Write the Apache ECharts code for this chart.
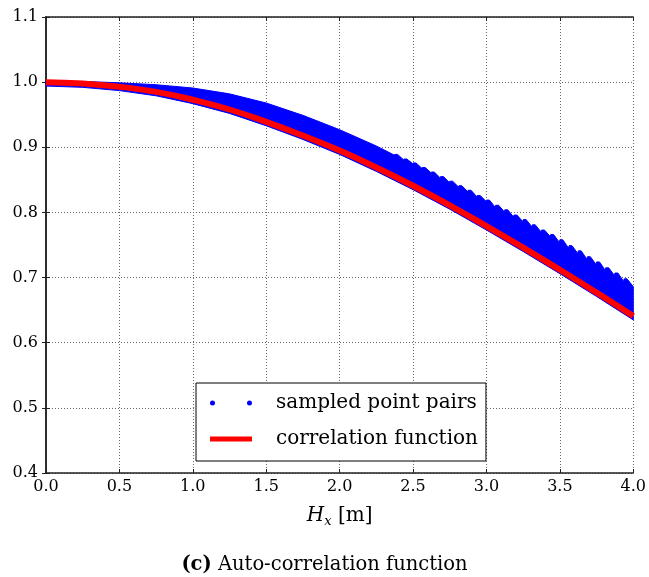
<!DOCTYPE html>
<html>
<head>
<meta charset="utf-8">
<script src="https://cdn.jsdelivr.net/npm/echarts@6/dist/echarts.min.js"></script>
<style>html,body{margin:0;padding:0;background:#fff;}#c{width:649px;height:577px;}</style>
</head>
<body>
<div id="c"></div>
<script>
// ---- data ----
const xTicks = [0.0, 0.5, 1.0, 1.5, 2.0, 2.5, 3.0, 3.5, 4.0];
const yTicks = [0.4, 0.5, 0.6, 0.7, 0.8, 0.9, 1.0, 1.1];

// correlation function (red curve)
const hx   = [0, 0.25, 0.5, 0.75, 1.0, 1.25, 1.5, 1.75, 2.0, 2.25, 2.5, 2.75, 3.0, 3.25, 3.5, 3.75, 4.0];
const corr = [1.000, 0.998, 0.993, 0.985, 0.973, 0.958, 0.939, 0.918, 0.895, 0.869, 0.841, 0.811, 0.779, 0.746, 0.712, 0.677, 0.641];

// sampled point pairs: lower edge of the cloud (at hx)
const bandLow = [0.994, 0.992, 0.987, 0.979, 0.967, 0.952, 0.933, 0.912, 0.889, 0.863, 0.835, 0.805, 0.773, 0.740, 0.706, 0.671, 0.635];
// upper edge, smooth part
const bandTopX = [0, 0.25, 0.5, 0.75, 1.0, 1.25, 1.5, 1.75, 2.0, 2.25];
const bandTop  = [1.002, 1.001, 0.999, 0.996, 0.991, 0.982, 0.968, 0.949, 0.927, 0.902];
// upper edge, saw-tooth part
const toothX = [2.375, 2.4375, 2.5, 2.5625, 2.625, 2.6875, 2.75, 2.8125, 2.875, 2.9375, 3.0, 3.0625, 3.125,
                3.1875, 3.25, 3.3125, 3.375, 3.4375, 3.5, 3.5625, 3.625, 3.6875, 3.75, 3.8125, 3.875, 3.9375];
const toothTop  = [0.889, 0.882, 0.876, 0.869, 0.862, 0.855, 0.848, 0.841, 0.834, 0.826, 0.819, 0.811, 0.804,
                   0.796, 0.789, 0.781, 0.773, 0.766, 0.758, 0.749, 0.741, 0.732, 0.724, 0.715, 0.707, 0.698];
const toothBase = [0.888, 0.881, 0.875, 0.868, 0.861, 0.853, 0.846, 0.839, 0.832, 0.824, 0.817, 0.808, 0.801,
                   0.793, 0.786, 0.778, 0.770, 0.763, 0.754, 0.745, 0.737, 0.728, 0.720, 0.711, 0.703, 0.694];
const bandEndTop = 0.686;

const seriesNames = ['sampled point pairs', 'correlation function'];

// ---- build ----
const corrData = hx.map((x, i) => [x, corr[i]]);
const bandPts = [];
bandTopX.forEach((x, i) => bandPts.push([x, bandTop[i]]));
toothX.forEach((x, i) => {
  bandPts.push([x - 0.003, toothBase[i]]);
  bandPts.push([x, toothTop[i]]);
  bandPts.push([x + 0.02, toothTop[i]]);
});
bandPts.push([4.0, bandEndTop]);
for (let i = hx.length - 1; i >= 0; i--) bandPts.push([hx[i], bandLow[i]]);

const FONT = 'DejaVu Serif';
const frame = { show: true, lineStyle: { color: '#222', width: 1.5 } };
const tick = { show: true, inside: true, length: 4, lineStyle: { color: '#222', width: 1 } };
const dotted = { show: true, lineStyle: { color: '#666', width: 1, type: [1, 2] } };

const chart = echarts.init(document.getElementById('c'), null, { renderer: 'canvas' });
chart.setOption({
  animation: false,
  backgroundColor: '#fff',
  title: {
    text: '{b|(c)} Auto-correlation function',
    left: 'center',
    top: 550,
    textStyle: {
      fontFamily: FONT, fontSize: 19.5, fontWeight: 'normal', color: '#000',
      rich: { b: { fontFamily: FONT, fontSize: 19.5, fontWeight: 'bold', color: '#000' } }
    }
  },
  grid: { left: 46, right: 13, top: 17, bottom: 104, containLabel: false },
  legend: {
    orient: 'vertical',
    left: 196, top: 383,
    padding: [8, 8, 10, 14],
    itemGap: 12,
    itemWidth: 42, itemHeight: 5,
    borderColor: '#000', borderWidth: 1, borderRadius: 0,
    backgroundColor: '#fff',
    textStyle: { fontFamily: FONT, fontSize: 20, color: '#000', lineHeight: 24, padding: [0, 0, 0, 19] },
    data: [
      { name: seriesNames[0], icon: 'path://M0,2.5A2.5,2.5,0,1,1,5,2.5A2.5,2.5,0,1,1,0,2.5ZM37,2.5A2.5,2.5,0,1,1,42,2.5A2.5,2.5,0,1,1,37,2.5Z', itemStyle: { color: '#0000ff' } },
      { name: seriesNames[1], icon: 'rect', itemStyle: { color: '#ff0000' } }
    ]
  },
  xAxis: [
    {
      type: 'value', min: xTicks[0], max: xTicks[xTicks.length - 1], interval: 0.5,
      position: 'bottom',
      name: '{i|H}{s|x}{r| [m]}',
      nameLocation: 'middle', nameGap: 31,
      nameTextStyle: {
        fontFamily: FONT, color: '#000',
        rich: {
          i: { fontFamily: FONT, fontStyle: 'italic', fontSize: 20, lineHeight: 24, color: '#000' },
          s: { fontFamily: FONT, fontStyle: 'italic', fontSize: 13, lineHeight: 12, verticalAlign: 'bottom', color: '#000' },
          r: { fontFamily: FONT, fontSize: 20, lineHeight: 24, color: '#000' }
        }
      },
      axisLine: frame, axisTick: tick, splitLine: dotted,
      axisLabel: { fontFamily: FONT, fontSize: 16, color: '#000', margin: 6, formatter: v => v.toFixed(1) }
    },
    {
      type: 'value', min: xTicks[0], max: xTicks[xTicks.length - 1], interval: 0.5,
      position: 'top',
      axisLine: frame, axisTick: tick, splitLine: { show: false }, axisLabel: { show: false }
    }
  ],
  yAxis: [
    {
      type: 'value', min: yTicks[0], max: yTicks[yTicks.length - 1], interval: 0.1,
      position: 'left',
      axisLine: frame, axisTick: tick, splitLine: dotted,
      axisLabel: { fontFamily: FONT, fontSize: 16, color: '#000', margin: 8, formatter: v => v.toFixed(1) }
    },
    {
      type: 'value', min: yTicks[0], max: yTicks[yTicks.length - 1], interval: 0.1,
      position: 'right',
      axisLine: frame, axisTick: tick, splitLine: { show: false }, axisLabel: { show: false }
    }
  ],
  series: [
    {
      name: seriesNames[0],
      type: 'custom',
      xAxisIndex: 0, yAxisIndex: 0,
      itemStyle: { color: '#0000ff' },
      encode: { x: 0, y: 1 },
      data: bandPts,
      z: 2,
      renderItem: function (params, api) {
        if (params.dataIndex !== 0) return null;
        return {
          type: 'polygon',
          shape: { points: bandPts.map(p => api.coord(p)) },
          style: { fill: '#0000ff', stroke: '#0000ff', lineWidth: 1 }
        };
      }
    },
    {
      name: seriesNames[1],
      type: 'line',
      xAxisIndex: 0, yAxisIndex: 0,
      data: corrData,
      smooth: true,
      showSymbol: false,
      symbol: 'none',
      itemStyle: { color: '#ff0000' },
      lineStyle: { color: '#ff0000', width: 6 },
      z: 3
    }
  ]
});
</script>
</body>
</html>
